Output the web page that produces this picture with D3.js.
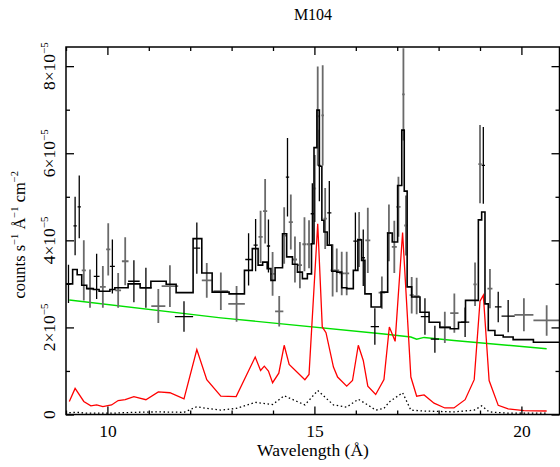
<!DOCTYPE html>
<html><head><meta charset="utf-8">
<script src="https://cdn.jsdelivr.net/npm/d3@7/dist/d3.min.js"></script>
<style>body{margin:0;background:#fff}svg{display:block}</style>
</head><body><svg id="c" width="560" height="467"></svg>
<script>
// ---- data (flux in units of 1e-5 counts s^-1 A^-1 cm^-2) ----
const title = "M104";
const xMajorTicks = [10, 15, 20];
const xMinorTicks = [9, 11, 12, 13, 14, 16, 17, 18, 19];
const yMajorTicks = [0, 2, 4, 6, 8];
const yMinorTicks = [1, 3, 5, 7];

const histEdges = [9.00, 9.16, 9.27, 9.38, 9.50, 9.66, 9.80, 10.06, 10.18, 10.50, 10.79, 11.05, 11.42, 11.66, 12.07, 12.28, 12.53, 12.94, 13.31, 13.50, 13.64, 13.75, 13.86, 13.95, 14.05, 14.23, 14.33, 14.47, 14.59, 14.71, 14.83, 14.93, 14.99, 15.06, 15.12, 15.18, 15.23, 15.31, 15.42, 15.54, 15.66, 15.78, 15.94, 16.05, 16.14, 16.22, 16.37, 16.61, 16.77, 16.88, 17.01, 17.11, 17.17, 17.24, 17.35, 17.55, 17.77, 18.03, 18.28, 18.48, 18.65, 18.96, 19.04, 19.12, 19.20, 19.36, 19.56, 19.80, 20.29, 20.93];
const histValues = [3.00, 3.33, 3.21, 2.97, 2.89, 2.87, 2.83, 2.87, 2.91, 3.00, 2.91, 3.06, 2.99, 2.80, 4.04, 3.25, 2.81, 2.77, 3.31, 3.81, 3.43, 3.50, 3.35, 3.08, 3.37, 4.15, 3.62, 3.45, 3.27, 3.12, 3.23, 3.92, 6.13, 6.99, 5.70, 4.46, 4.19, 3.89, 3.29, 3.27, 2.91, 2.89, 3.31, 4.01, 3.54, 2.77, 2.47, 2.81, 4.17, 3.96, 5.26, 6.53, 5.13, 2.93, 2.70, 2.35, 2.12, 2.00, 1.97, 2.12, 2.62, 4.47, 4.65, 2.54, 1.93, 1.82, 1.78, 1.72, 1.66];

const dataLambda = [9.06, 9.22, 9.32, 9.43, 9.58, 9.74, 9.89, 10.02, 10.12, 10.26, 10.43, 10.64, 10.93, 11.23, 11.51, 11.85, 12.16, 12.40, 12.74, 13.12, 13.41, 13.58, 13.70, 13.81, 13.89, 13.99, 14.15, 14.27, 14.35, 14.43, 14.53, 14.65, 14.76, 14.87, 14.95, 15.01, 15.08, 15.12, 15.20, 15.26, 15.36, 15.44, 15.54, 15.66, 15.78, 15.99, 16.08, 16.18, 16.29, 16.46, 16.63, 16.80, 16.93, 17.03, 17.15, 17.21, 17.35, 17.47, 17.67, 17.91, 18.15, 18.38, 18.64, 18.88, 19.00, 19.08, 19.24, 19.44, 19.68, 20.06, 20.61];
const dataFlux = [3.00, 4.33, 4.77, 3.31, 2.89, 3.17, 2.93, 3.79, 3.40, 2.85, 3.52, 3.06, 2.91, 2.49, 2.95, 2.25, 3.82, 3.08, 2.83, 2.54, 3.56, 3.89, 4.08, 4.67, 3.87, 3.23, 2.37, 4.11, 5.45, 4.42, 3.56, 3.43, 3.91, 3.91, 4.61, 5.19, 6.85, 5.72, 6.87, 4.50, 4.63, 3.31, 3.31, 3.24, 3.24, 3.98, 4.02, 3.60, 4.00, 2.02, 2.80, 4.17, 3.85, 4.77, 7.35, 4.34, 2.74, 2.72, 2.25, 1.73, 2.00, 2.33, 2.12, 2.99, 5.75, 5.72, 2.89, 2.47, 2.26, 2.29, 2.16];
const dataErr = [0.44, 0.67, 0.72, 0.69, 0.44, 0.52, 0.48, 0.60, 0.62, 0.40, 0.55, 0.48, 0.46, 0.39, 0.48, 0.35, 0.59, 0.40, 0.43, 0.41, 0.60, 0.60, 0.60, 0.74, 0.61, 0.50, 0.35, 0.65, 0.90, 0.63, 0.53, 0.53, 0.62, 0.55, 0.70, 0.77, 1.14, 0.82, 1.15, 0.70, 0.73, 0.60, 0.50, 0.50, 0.50, 0.66, 0.63, 0.65, 0.75, 0.42, 0.37, 0.65, 0.60, 0.69, 1.06, 0.69, 0.42, 0.42, 0.42, 0.31, 0.36, 0.45, 0.34, 0.50, 0.90, 0.88, 0.45, 0.35, 0.37, 0.38, 0.35];
const dataHalfWidth = [0.06, 0.04, 0.04, 0.05, 0.06, 0.07, 0.07, 0.05, 0.06, 0.07, 0.08, 0.14, 0.14, 0.17, 0.20, 0.22, 0.08, 0.12, 0.18, 0.20, 0.08, 0.05, 0.05, 0.05, 0.04, 0.05, 0.10, 0.05, 0.04, 0.05, 0.05, 0.05, 0.05, 0.05, 0.04, 0.03, 0.03, 0.03, 0.03, 0.04, 0.05, 0.05, 0.06, 0.06, 0.06, 0.05, 0.05, 0.04, 0.06, 0.10, 0.08, 0.05, 0.06, 0.05, 0.03, 0.04, 0.05, 0.07, 0.10, 0.10, 0.12, 0.10, 0.10, 0.04, 0.04, 0.04, 0.06, 0.08, 0.16, 0.23, 0.32];
const dataInstrument = [1, 1, 1, 2, 2, 1, 2, 2, 1, 2, 2, 1, 1, 2, 2, 1, 1, 2, 2, 2, 1, 1, 2, 2, 1, 2, 2, 2, 1, 2, 2, 2, 2, 2, 1, 2, 2, 1, 2, 2, 1, 2, 2, 2, 2, 1, 2, 1, 2, 1, 2, 2, 2, 2, 2, 2, 2, 2, 1, 1, 2, 2, 1, 2, 2, 1, 2, 1, 1, 2, 2];

const lineLambda = [9.08, 9.22, 9.43, 9.60, 9.74, 9.89, 10.10, 10.26, 10.43, 10.64, 10.93, 11.23, 11.51, 11.85, 12.16, 12.40, 12.74, 13.11, 13.57, 13.70, 13.79, 13.89, 13.99, 14.14, 14.27, 14.39, 14.77, 14.87, 15.08, 15.19, 15.28, 15.46, 15.56, 15.78, 15.92, 16.06, 16.18, 16.29, 16.48, 16.68, 16.81, 16.95, 17.13, 17.33, 17.47, 17.65, 17.89, 18.15, 18.37, 18.64, 18.86, 19.00, 19.08, 19.22, 19.44, 19.68, 20.06, 20.61];
const lineFlux = [0.30, 0.60, 0.30, 0.20, 0.22, 0.18, 0.22, 0.32, 0.34, 0.41, 0.34, 0.52, 0.50, 0.36, 1.49, 0.80, 0.42, 0.41, 1.32, 1.01, 1.11, 1.00, 0.73, 0.95, 1.59, 1.15, 0.80, 0.92, 4.38, 2.01, 1.88, 1.09, 0.86, 0.65, 0.78, 1.59, 1.24, 0.65, 0.46, 0.80, 2.01, 1.68, 4.18, 0.86, 0.42, 0.45, 0.26, 0.15, 0.15, 0.34, 0.80, 2.60, 2.74, 0.78, 0.21, 0.13, 0.09, 0.08];

const contLambda = [9.08, 12.74, 16.68, 17.33, 17.47, 17.65, 18.37, 20.61];
const contFlux = [2.63, 2.22, 1.85, 1.78, 1.73, 1.77, 1.70, 1.51];

const dotLambda = [9.08, 9.26, 9.50, 10.10, 10.64, 11.23, 11.85, 12.16, 12.40, 12.74, 13.11, 13.57, 13.99, 14.27, 14.77, 15.08, 15.46, 15.78, 16.06, 16.29, 16.48, 16.68, 16.81, 17.13, 17.33, 17.65, 18.37, 18.86, 19.04, 19.22, 19.68, 20.61];
const dotFlux = [0.04, 0.05, 0.03, 0.03, 0.05, 0.06, 0.05, 0.18, 0.14, 0.10, 0.14, 0.28, 0.23, 0.43, 0.22, 0.55, 0.22, 0.17, 0.35, 0.22, 0.10, 0.14, 0.29, 0.50, 0.10, 0.08, 0.06, 0.10, 0.20, 0.06, 0.03, 0.03];

// ---- layout ----
const L = 66, R = 559.5, T = 47, B = 414.5;
const svg = d3.select("#c");
const x = d3.scaleLinear().domain([9, 20.92]).range([L, R]);
const y = d3.scaleLinear().domain([0, 8.44]).range([B, T]);
const font = "'Liberation Serif','Times New Roman',serif";

svg.append("defs").append("clipPath").attr("id", "clip")
  .append("rect").attr("x", L).attr("y", T).attr("width", R - L).attr("height", B - T);
const plot = svg.append("g").attr("clip-path", "url(#clip)");

// continuum (green)
plot.append("path").datum(contLambda.map((l, i) => [l, contFlux[i]]))
  .attr("fill", "none").attr("stroke", "#00e000").attr("stroke-width", 1.4)
  .attr("d", d3.line().x(d => x(d[0])).y(d => y(d[1])));

// dotted component
plot.append("path").datum(dotLambda.map((l, i) => [l, dotFlux[i]]))
  .attr("fill", "none").attr("stroke", "#000").attr("stroke-width", 1.3)
  .attr("stroke-dasharray", "1.5,2.6")
  .attr("d", d3.line().x(d => x(d[0])).y(d => y(d[1])));

// line emission (red)
plot.append("path").datum(lineLambda.map((l, i) => [l, lineFlux[i]]))
  .attr("fill", "none").attr("stroke", "#ff0000").attr("stroke-width", 1.3)
  .attr("d", d3.line().x(d => x(d[0])).y(d => y(d[1])));

// data crosses
const pts = dataLambda.map((l, i) => ({l, f: dataFlux[i], e: dataErr[i], w: dataHalfWidth[i], g: dataInstrument[i]}));
const cross = plot.append("g").selectAll("g").data(pts).join("g")
  .attr("stroke", d => d.g === 2 ? "#6a6a6a" : "#000")
  .attr("stroke-width", d => d.g === 2 ? 1.8 : 1.3);
cross.append("line").attr("x1", d => x(d.l)).attr("x2", d => x(d.l))
  .attr("y1", d => y(d.f - d.e)).attr("y2", d => y(d.f + d.e));
cross.append("line").attr("x1", d => x(d.l - d.w)).attr("x2", d => x(d.l + d.w))
  .attr("y1", d => y(d.f)).attr("y2", d => y(d.f));

// model histogram (black step)
const stepPts = [];
histValues.forEach((v, i) => { stepPts.push([histEdges[i], v]); stepPts.push([histEdges[i + 1], v]); });
plot.append("path").datum(stepPts)
  .attr("fill", "none").attr("stroke", "#000").attr("stroke-width", 1.6)
  .attr("d", d3.line().x(d => x(d[0])).y(d => y(d[1])));

// ---- axes (ticks inward on all sides) ----
function axisG(axis, tx, ty) {
  const g = svg.append("g").attr("transform", `translate(${tx},${ty})`).call(axis);
  g.select(".domain").remove();
  g.selectAll(".tick line").attr("stroke", "#000").attr("stroke-width", 1.3);
  return g;
}
axisG(d3.axisBottom(x).tickValues(xMajorTicks).tickSize(-8).tickPadding(10).tickFormat(d3.format("d")), 0, B)
  .selectAll("text").attr("font-family", font).attr("font-size", 17.5).attr("fill", "#000");
axisG(d3.axisBottom(x).tickValues(xMinorTicks).tickSize(-4).tickFormat(""), 0, B);
axisG(d3.axisTop(x).tickValues(xMajorTicks).tickSize(-8).tickFormat(""), 0, T);
axisG(d3.axisTop(x).tickValues(xMinorTicks).tickSize(-4).tickFormat(""), 0, T);
axisG(d3.axisLeft(y).tickValues(yMajorTicks).tickSize(-8).tickFormat(""), L, 0);
axisG(d3.axisLeft(y).tickValues(yMinorTicks).tickSize(-4).tickFormat(""), L, 0);
axisG(d3.axisRight(y).tickValues(yMajorTicks).tickSize(-8).tickFormat(""), R, 0);
axisG(d3.axisRight(y).tickValues(yMinorTicks).tickSize(-4).tickFormat(""), R, 0);

// frame
svg.append("rect").attr("x", L).attr("y", T).attr("width", R - L).attr("height", B - T)
  .attr("fill", "none").attr("stroke", "#000").attr("stroke-width", 1.5);

// y tick labels (rotated, with superscripts)
yMajorTicks.forEach(v => {
  const t = svg.append("text").attr("transform", `translate(55,${y(v)}) rotate(-90)`)
    .attr("text-anchor", "middle").attr("font-family", font).attr("font-size", 17.5).attr("fill", "#000");
  if (v === 0) { t.text("0"); }
  else {
    t.append("tspan").text(v + "×10");
    t.append("tspan").attr("dy", -7).attr("font-size", 11).text("−5");
  }
});

// y axis title
const yt = svg.append("text").attr("transform", `translate(25,${(T + B) / 2 + 4}) rotate(-90)`)
  .attr("text-anchor", "middle").attr("font-family", font).attr("font-size", 16.5).attr("fill", "#000");
yt.append("tspan").text("counts s");
yt.append("tspan").attr("dy", -7).attr("font-size", 10.5).text("−1");
yt.append("tspan").attr("dy", 7).text(" Å");
yt.append("tspan").attr("dy", -7).attr("font-size", 10.5).text("−1");
yt.append("tspan").attr("dy", 7).text(" cm");
yt.append("tspan").attr("dy", -7).attr("font-size", 10.5).text("−2");

// x axis title
svg.append("text").attr("x", (L + 560) / 2).attr("y", 456).attr("text-anchor", "middle")
  .attr("font-family", font).attr("font-size", 17.5).attr("fill", "#000").text("Wavelength (Å)");

// title
svg.append("text").attr("x", 313).attr("y", 20).attr("text-anchor", "middle")
  .attr("font-family", font).attr("font-size", 16).attr("fill", "#000").text(title);
</script></body></html>
